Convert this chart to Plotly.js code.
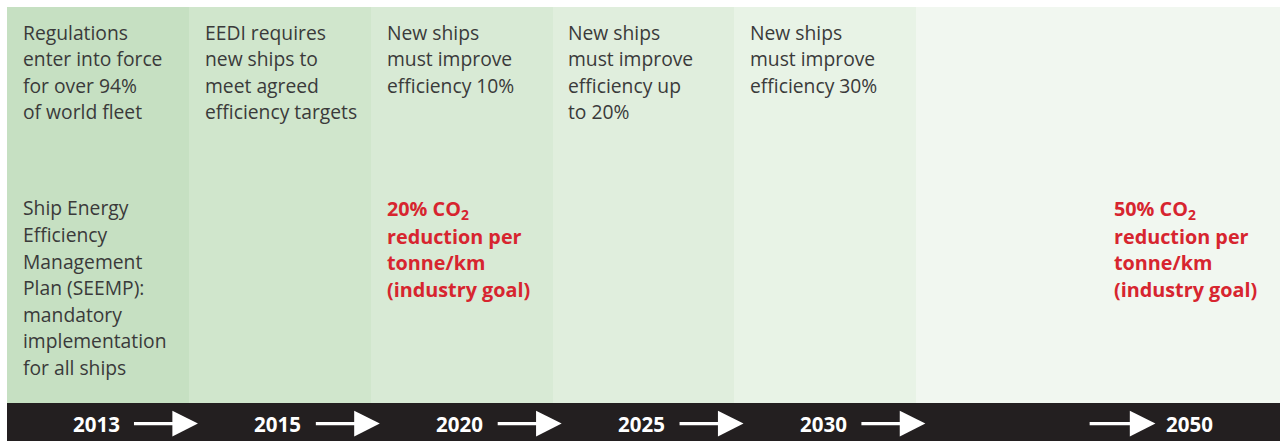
<!DOCTYPE html>
<html>
<head>
<meta charset="utf-8">
<script src="https://cdn.plot.ly/plotly-3.0.1.min.js"></script>
<style>html,body{margin:0;padding:0;background:#fff;}#chart{width:1280px;height:441px;}</style>
</head>
<body>
<div id="chart"></div>
<script>
// ---- data ----
const years = ['2013', '2015', '2020', '2025', '2030', '2050'];
const spans = [1, 1, 1, 1, 1, 2];
const upperNotes = [
  'Regulations<br>enter into force<br>for over 94%<br>of world fleet',
  'EEDI requires<br>new ships to<br>meet agreed<br>efficiency targets',
  'New ships<br>must improve<br>efficiency 10%',
  'New ships<br>must improve<br>efficiency up<br>to 20%',
  'New ships<br>must improve<br>efficiency 30%',
  ''
];
const lowerNotes = [
  'Ship Energy<br>Efficiency<br>Management<br>Plan (SEEMP):<br>mandatory<br>implementation<br>for all ships',
  '',
  '20% CO<sub>2</sub><br>reduction per<br>tonne/km<br>(industry goal)',
  '',
  '',
  '50% CO<sub>2</sub><br>reduction per<br>tonne/km<br>(industry goal)'
];
const lowerIsGoal = [false, false, true, false, false, true];

// ---- style ----
const colColors = ['#c6e0c2', '#d0e6cc', '#d8ead5', '#e0eedd', '#e8f3e6', '#f1f7f0'];
const textGray = '#3a3a3a';
const red = '#d7252f';
const band = '#231f20';
const bandBottom = -0.096;
const plotPx = 396;          // pixels per y unit (from band top to plot top)
const bandTopPx = 403;       // pixel row of y = 0
const lineStep = 26.6 / plotPx;
const yOfPx = px => (bandTopPx - px) / plotPx;

// column geometry from spans
const starts = [];
let acc = 0;
spans.forEach(s => { starts.push(acc); acc += s; });
const centers = starts.map((s, i) => s + spans[i] / 2);
const total = acc;

const trace = {
  type: 'bar',
  x: centers,
  y: years.map(() => 1),
  width: spans,
  base: 0,
  marker: { color: colColors, line: { width: 0 } },
  hoverinfo: 'skip',
  showlegend: false
};

const annotations = [];
function addLines(note, x, yFirst, font, bold) {
  note.split('<br>').forEach((ln, k) => {
    annotations.push({
      x: x, y: yFirst - k * lineStep, xref: 'x', yref: 'y',
      xanchor: 'left', yanchor: 'middle', align: 'left', showarrow: false,
      borderpad: 0, text: bold ? '<b>' + ln + '</b>' : ln, font: font
    });
  });
}

const pad = 0.082;
years.forEach((yr, i) => {
  if (upperNotes[i]) {
    addLines(upperNotes[i], starts[i] + pad, yOfPx(32),
      { family: 'Open Sans', size: 19.3, color: textGray }, false);
  }
  if (lowerNotes[i]) {
    const goal = lowerIsGoal[i];
    const lx = (i === years.length - 1) ? starts[i] + 1.08 : starts[i] + pad;
    if (goal) {
      addLines(lowerNotes[i], lx, yOfPx(209.5),
        { family: 'Open Sans', size: 19.8, color: red }, true);
    } else {
      addLines(lowerNotes[i], lx, yOfPx(208),
        { family: 'Open Sans', size: 19.3, color: textGray }, false);
    }
  }
  // year label and arrow
  const last = i === years.length - 1;
  const tx = last ? starts[i] + 1.5 : starts[i] + 0.49;
  const a0 = last ? starts[i] + 0.945 : starts[i] + 0.69;
  const a1 = last ? starts[i] + 1.315 : starts[i] + 1.05;
  annotations.push({
    x: tx, y: -0.052, xref: 'x', yref: 'y', showarrow: false,
    xanchor: 'center', yanchor: 'middle', text: '<b>' + yr + '</b>',
    font: { family: 'Open Sans', size: 20.5, color: '#ffffff' }
  });
  annotations.push({
    x: a1, y: -0.052, ax: a0, ay: -0.052, xref: 'x', yref: 'y',
    axref: 'x', ayref: 'y', text: '', showarrow: true,
    arrowhead: 2, arrowsize: 1.6, arrowwidth: 3.2, arrowcolor: '#ffffff',
    standoff: 0, startstandoff: 0
  });
});

const layout = {
  width: 1280, height: 441,
  margin: { l: 7, r: 0, t: 7, b: 0, pad: 0 },
  paper_bgcolor: '#ffffff', plot_bgcolor: '#ffffff',
  bargap: 0,
  xaxis: { range: [0, total], showgrid: false, zeroline: false, showticklabels: false, ticks: '', fixedrange: true },
  yaxis: { range: [bandBottom, 1], showgrid: false, zeroline: false, showticklabels: false, ticks: '', fixedrange: true },
  shapes: [{
    type: 'rect', xref: 'paper', yref: 'y', x0: 0, x1: 1, y0: bandBottom, y1: 0,
    fillcolor: band, line: { width: 0 }, layer: 'below'
  }],
  annotations: annotations
};

Plotly.newPlot('chart', [trace], layout, { displayModeBar: false, staticPlot: true });
</script>
</body>
</html>
